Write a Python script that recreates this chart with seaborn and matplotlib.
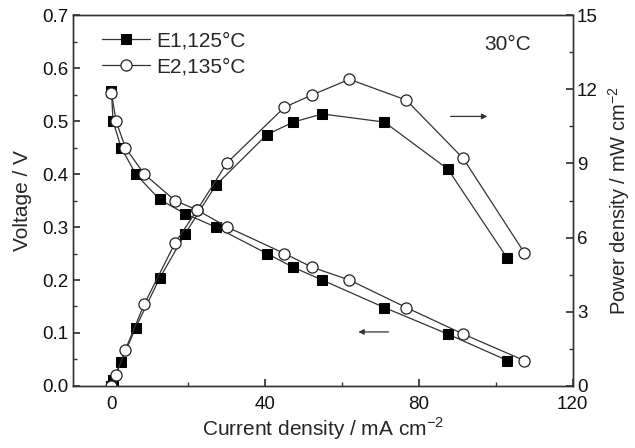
import matplotlib
matplotlib.use("Agg")
import matplotlib.pyplot as plt
import seaborn as sns
import pandas as pd
from matplotlib.ticker import MultipleLocator

sns.set_theme(style="white")
plt.rcParams['font.family'] = ['Liberation Sans', 'DejaVu Sans']
plt.rcParams['mathtext.fontset'] = 'custom'
plt.rcParams['mathtext.rm'] = 'Liberation Sans'

# ---- data ----
e1_current = [0, 0.4, 2.5, 6.3, 12.5, 19.2, 27.1, 40.4, 47.3, 54.8, 71, 87.5, 103]
e1_voltage = [0.557, 0.5, 0.45, 0.4, 0.352, 0.325, 0.3, 0.25, 0.224, 0.2, 0.148, 0.098, 0.048]
e1_power = [0.0, 0.24, 0.98, 2.36, 4.35, 6.16, 8.11, 10.16, 10.67, 11.0, 10.67, 8.77, 5.16]

e2_current = [0, 1.2, 3.6, 8.5, 16.5, 22.3, 30.1, 45, 52.2, 61.9, 76.7, 91.5, 107.4]
e2_voltage = [0.553, 0.5, 0.45, 0.4, 0.35, 0.332, 0.3, 0.25, 0.224, 0.2, 0.148, 0.098, 0.048]
e2_power = [0.0, 0.44, 1.46, 3.3, 5.77, 7.12, 9.03, 11.27, 11.77, 12.4, 11.56, 9.2, 5.39]

labels = ["E1,125°C", "E2,135°C"]
x_ticks = [0, 40, 80, 120]
v_ticks = [0.0, 0.1, 0.2, 0.3, 0.4, 0.5, 0.6, 0.7]
p_ticks = [0, 3, 6, 9, 12, 15]

df1 = pd.DataFrame({"i": e1_current, "v": e1_voltage, "p": e1_power})
df2 = pd.DataFrame({"i": e2_current, "v": e2_voltage, "p": e2_power})

fig = plt.figure(figsize=(6.35, 4.48), dpi=100)
ax = fig.add_axes([0.115, 0.1384, 0.787, 0.8281])
ax2 = ax.twinx()

line_kw = dict(color="#333333", linewidth=0.9, estimator=None, sort=False)
sq_kw = dict(marker="s", markersize=6.5, markerfacecolor="black", markeredgecolor="black")
ci_kw = dict(marker="o", markersize=8, markerfacecolor="white", markeredgecolor="#222222", markeredgewidth=0.9)

sns.lineplot(data=df1, x="i", y="v", ax=ax, label=labels[0], **line_kw, **sq_kw)
sns.lineplot(data=df2, x="i", y="v", ax=ax, label=labels[1], **line_kw, **ci_kw)
sns.lineplot(data=df1, x="i", y="p", ax=ax2, legend=False, **line_kw, **sq_kw)
sns.lineplot(data=df2, x="i", y="p", ax=ax2, legend=False, **line_kw, **ci_kw)

ax.set_xlim(-10, 120)
ax.set_ylim(0, 0.7)
ax2.set_ylim(0, 15)
ax.set_xticks(x_ticks)
ax.set_yticks(v_ticks)
ax2.set_yticks(p_ticks)
ax.xaxis.set_minor_locator(MultipleLocator(20))
ax.yaxis.set_minor_locator(MultipleLocator(0.05))
ax2.yaxis.set_minor_locator(MultipleLocator(1.5))
ax.set_yticklabels([f"{t:.1f}" for t in v_ticks])

for a, axis in ((ax, "x"), (ax, "y"), (ax2, "y")):
    a.tick_params(axis=axis, which="both", direction="in", labelsize=13.5,
                  color="#333333", labelcolor="#111111", pad=3)
    a.tick_params(axis=axis, which="major", length=5)
    a.tick_params(axis=axis, which="minor", length=3)
ax.tick_params(axis="x", which="both", bottom=True, pad=7)
ax.tick_params(axis="y", which="both", left=True)
ax2.tick_params(axis="y", which="both", right=True)

for a in (ax, ax2):
    for s in a.spines.values():
        s.set_color("#333333")
        s.set_linewidth(1.0)

ax.set_xlabel("Current density / mA cm$^{-2}$", fontsize=15)
ax.set_ylabel("Voltage / V", fontsize=15)
ax2.set_ylabel("Power density / mW cm$^{-2}$", fontsize=14.5)
ax.xaxis.set_label_coords(0.5, -0.078)
ax.yaxis.set_label_coords(-0.082, 0.5)
ax2.yaxis.set_label_coords(1.066, 0.5)

leg = ax.legend(loc="upper left", frameon=False, fontsize=15, handlelength=2.3,
                borderaxespad=0.0, borderpad=0.0, labelspacing=0.32, handletextpad=0.3,
                bbox_to_anchor=(0.058, 0.955))

ax.text(103, 0.645, "30°C", fontsize=15, ha="center", va="center")

ax2.annotate("", xy=(98.5, 10.9), xytext=(87.5, 10.9),
             arrowprops=dict(arrowstyle="-|>", color="#333333", lw=0.9, mutation_scale=8))
ax.annotate("", xy=(63.5, 0.102), xytext=(72.8, 0.102),
            arrowprops=dict(arrowstyle="-|>", color="#333333", lw=0.9, mutation_scale=8))

fig.savefig("out.png", dpi=100)
